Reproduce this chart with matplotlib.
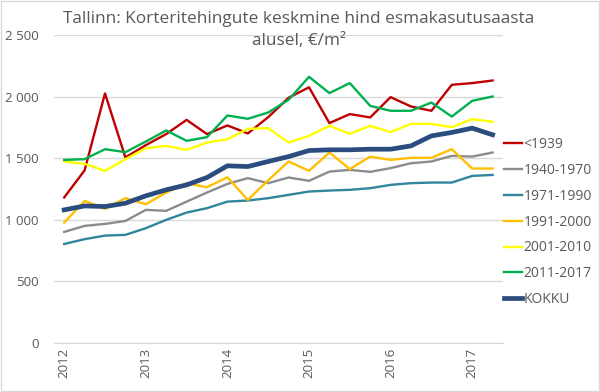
import matplotlib.pyplot as plt

years = ['2012', '2013', '2014', '2015', '2016', '2017']
names = ['<1939', '1940-1970', '1971-1990', '1991-2000', '2001-2010', '2011-2017', 'KOKKU']

# quarterly values 2012 Q1 ... 2017 Q2
v1939 = [1180, 1400, 2025, 1505, 1605, 1695, 1810, 1695, 1765, 1700, 1832,
         1990, 2075, 1784, 1857, 1830, 1995, 1919, 1884, 2095, 2109, 2130]
v1940 = [900, 949, 965, 989, 1079, 1071, 1146, 1220, 1290, 1337, 1296,
         1342, 1315, 1390, 1404, 1388, 1418, 1458, 1472, 1518, 1512, 1545]
v1971 = [802, 841, 870, 876, 930, 998, 1057, 1093, 1146, 1155, 1174,
         1201, 1228, 1236, 1242, 1255, 1282, 1296, 1301, 1301, 1355, 1363]
v1991 = [976, 1152, 1087, 1174, 1125, 1220, 1296, 1263, 1344, 1160, 1320,
         1472, 1396, 1545, 1410, 1512, 1485, 1502, 1502, 1572, 1415, 1415]
v2001 = [1472, 1453, 1396, 1491, 1580, 1599, 1567, 1626, 1653, 1737, 1743,
         1626, 1680, 1762, 1697, 1762, 1711, 1778, 1778, 1751, 1816, 1794]
v2011 = [1485, 1491, 1572, 1548, 1634, 1724, 1640, 1670, 1846, 1819, 1870,
         1973, 2160, 2028, 2109, 1924, 1884, 1884, 1951, 1837, 1965, 2000]
kokku = [1079, 1111, 1106, 1133, 1193, 1242, 1282, 1342, 1437, 1431, 1472,
         1512, 1561, 1567, 1567, 1572, 1572, 1599, 1680, 1708, 1743, 1689]

series = [v1939, v1940, v1971, v1991, v2001, v2011, kokku]
colors = ['#c00000', '#8c8c8c', '#31859c', '#ffc000', '#ffff00', '#00b050', '#2b4c7e']
widths = [1.7, 1.7, 1.7, 1.7, 1.7, 1.7, 3.4]

plt.rcParams['font.family'] = ['Open Sans', 'DejaVu Sans']
fig = plt.figure(figsize=(6, 3.92), dpi=100)
fig.patches.append(plt.Rectangle((0.002, 0.002), 0.996, 0.996, transform=fig.transFigure,
                                 fill=False, edgecolor='#d9d9d9', linewidth=1))
ax = fig.add_axes([0.09, 0.1258, 0.748, 0.785])

x = list(range(len(kokku)))
for s, n, c, w in zip(series, names, colors, widths):
    ax.plot(x, s, color=c, linewidth=w, label=n, solid_joinstyle='round')

ax.set_xlim(-0.5, len(kokku) - 0.5)
ax.set_ylim(0, 2500)
ax.set_yticks(range(0, 2501, 500))
ax.set_yticklabels(['0', '500', '1 000', '1 500', '2 000', '2 500'])
ax.set_xticks(range(0, len(kokku), 4))
ax.set_xticklabels(years, rotation=90)
ax.tick_params(length=0, colors='#595959', labelsize=9.5)
ax.tick_params(axis='y', pad=11)
ax.grid(axis='y', color='#d9d9d9', linewidth=1)
ax.set_axisbelow(True)
for sp in ['top', 'right', 'left']:
    ax.spines[sp].set_visible(False)
ax.spines['bottom'].set_color('#d9d9d9')

fig.text(0.498, 0.923, 'Tallinn: Korteritehingute keskmine hind esmakasutusaasta\nalusel, €/m²',
         ha='center', va='center', fontsize=12.4, color='#595959', linespacing=1.45)

leg = ax.legend(loc='center left', bbox_to_anchor=(0.99, 0.392), frameon=False,
                fontsize=10, handlelength=1.3, handletextpad=0.1, labelspacing=0.78,
                borderaxespad=0.0)
for t in leg.get_texts():
    t.set_color('#595959')

fig.savefig('out.png', dpi=100)
